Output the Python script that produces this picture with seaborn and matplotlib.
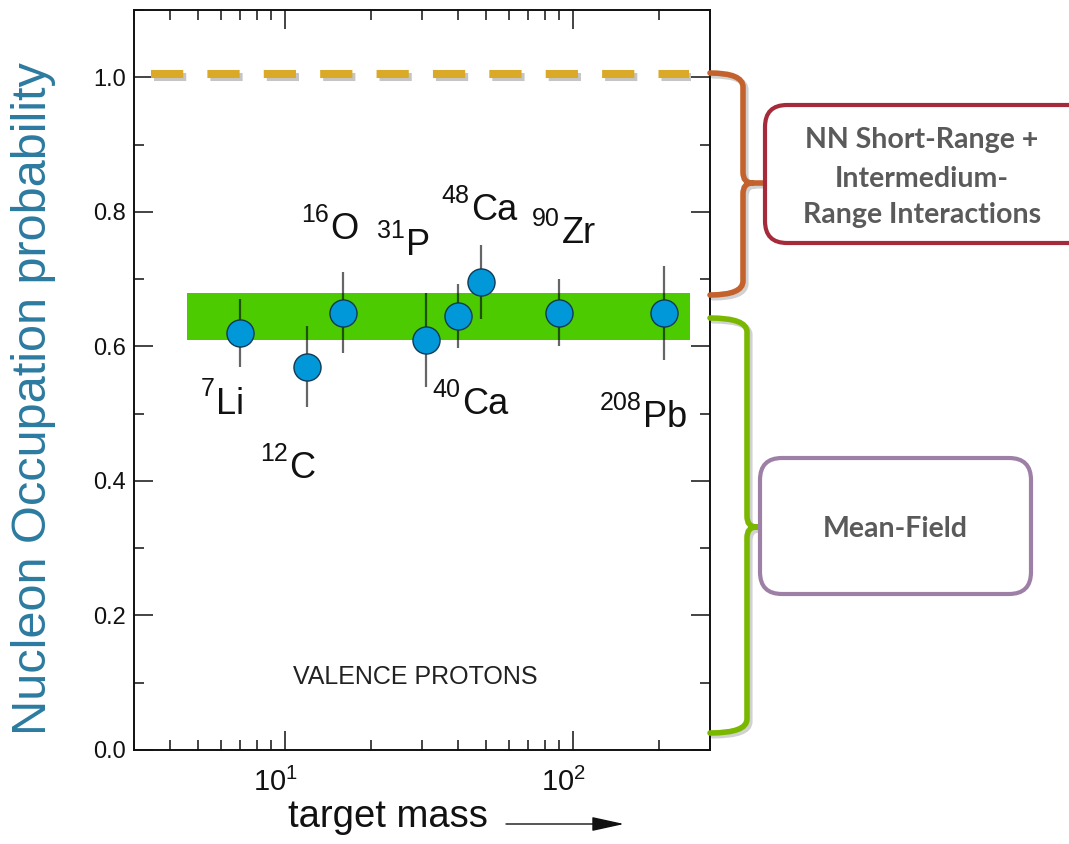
## Nucleon occupation probability vs target mass (valence protons)

import numpy as np
import pandas as pd
import seaborn as sns
import matplotlib.pyplot as plt
from matplotlib.path import Path
from matplotlib import patches, transforms
import matplotlib.patheffects as pe
from matplotlib.ticker import MultipleLocator, NullFormatter

# data
mass_numbers = [7, 12, 16, 31, 40, 48, 90, 208]
elements = ['Li', 'C', 'O', 'P', 'Ca', 'Ca', 'Zr', 'Pb']
occupation = [0.62, 0.57, 0.65, 0.61, 0.645, 0.695, 0.65, 0.65]
occupation_err = [0.05, 0.06, 0.06, 0.07, 0.048, 0.055, 0.05, 0.07]

# where each element symbol sits (mass, baseline)
label_mass = [5.78, 10.35, 14.4, 26.4, 41.3, 44.3, 91.6, 175]
label_occ = [0.500, 0.404, 0.759, 0.736, 0.499, 0.788, 0.753, 0.480]

band_occ = [0.61, 0.68]          # mean-field band
band_mass = [4.6, 255]
unity_occ = 1.0                  # full occupation
unity_mass = [3.45, 253]

df = pd.DataFrame({'mass': mass_numbers, 'occ': occupation, 'err': occupation_err})

sns.set_theme(style='ticks')
plt.rcParams['font.family'] = ['Liberation Sans', 'DejaVu Sans']
plt.rcParams['mathtext.fontset'] = 'custom'
plt.rcParams['mathtext.rm'] = 'Liberation Sans'
plt.rcParams['mathtext.it'] = 'Liberation Sans:italic'

W, H = 1069, 844
fig = plt.figure(figsize=(W / 100, H / 100), dpi=100)
ax = fig.add_axes([134 / W, 1 - 750 / H, 576 / W, 740 / H])

# band + dashed unity line
ax.fill_between(band_mass, band_occ[0], band_occ[1], color='#4CCB00', lw=0, zorder=1)
shift = transforms.offset_copy(ax.transData, fig=fig, x=0, y=3, units='dots')
ax.plot(unity_mass, [unity_occ, unity_occ], transform=shift, color='#DAA927', lw=5.8,
        dashes=(4, 3), solid_capstyle='butt', dash_capstyle='butt', zorder=2,
        path_effects=[pe.SimpleLineShadow(offset=(1.5, -2), alpha=0.25), pe.Normal()])

# error bars and points
ax.errorbar(df['mass'], df['occ'], yerr=df['err'], fmt='none', ecolor='black',
            alpha=0.6, elinewidth=1.6, capsize=0, zorder=3)
sns.scatterplot(data=df, x='mass', y='occ', ax=ax, s=380, color='#0098D8',
                edgecolor='#103a55', linewidth=1.0, zorder=4, legend=False)

ax.set_xscale('log')
ax.set_xlim(3, 300)
ax.set_ylim(0, 1.1)
ax.yaxis.set_major_locator(MultipleLocator(0.2))
ax.yaxis.set_minor_locator(MultipleLocator(0.1))
ax.xaxis.set_minor_formatter(NullFormatter())
ax.tick_params(which='both', direction='in', top=True, right=True, colors='#111111',
               width=1.1)
ax.tick_params(which='major', length=13.5)
ax.tick_params(which='minor', length=7.5)
ax.tick_params(axis='y', labelsize=17, pad=6)
ax.tick_params(axis='x', labelsize=21, pad=13)
for s in ax.spines.values():
    s.set_linewidth(1.4)
    s.set_color('#111111')
ax.set_xlabel('')
ax.set_ylabel('Nucleon Occupation probability', fontsize=35, color='#2C7BA0')
ax.yaxis.set_label_coords(-0.135, 0.475)

# shift the 10^n labels a little left, as in the original
nudge = transforms.ScaledTranslation(-9 / 100, 0, fig.dpi_scale_trans)
for t in ax.xaxis.get_major_ticks():
    t.label1.set_transform(t.label1.get_transform() + nudge)

# nucleus labels: element symbol with mass number as superscript
for a, el, lx, ly in zip(mass_numbers, elements, label_mass, label_occ):
    ax.annotate(el, (lx, ly), ha='left', va='baseline', fontsize=26, color='#111111')
    ax.annotate(str(a), (lx, ly), xytext=(-1, 12.5), textcoords='offset points',
                ha='right', va='baseline', fontsize=18, color='#111111')

ax.text(28.5, 0.098, 'VALENCE PROTONS', ha='center', va='baseline', fontsize=18,
        color='#222222')

# overlay in pixel units for the brackets, boxes and x label
ov = fig.add_axes([0, 0, 1, 1], zorder=5)
ov.set_xlim(0, W)
ov.set_ylim(H, 0)
ov.axis('off')

ov.text(288, 827, 'target mass', ha='left', va='baseline', fontsize=27.5, color='#111111')
ov.annotate('', xy=(624, 824), xytext=(506, 824),
            arrowprops=dict(arrowstyle='-|>,head_length=1.0,head_width=0.22',
                            mutation_scale=20, color='#111111', lw=1.0, shrinkA=0, shrinkB=0))


def brace(x0, x1, y_top, y_mid, y_bot, tip, r=14):
    verts = [(x0, y_top), (x1, y_top), (x1, y_top + r),
             (x1, y_mid - 11), (x1, y_mid), (x1 + 9, y_mid),
             (tip, y_mid),
             (x1 + 9, y_mid), (x1, y_mid), (x1, y_mid + 11),
             (x1, y_bot - r), (x1, y_bot), (x0, y_bot)]
    codes = [Path.MOVETO, Path.CURVE3, Path.CURVE3,
             Path.LINETO, Path.CURVE3, Path.CURVE3,
             Path.LINETO,
             Path.MOVETO, Path.CURVE3, Path.CURVE3,
             Path.LINETO, Path.CURVE3, Path.CURVE3]
    return Path(verts, codes)


shadow = [pe.SimpleLineShadow(offset=(2, -2), alpha=0.2), pe.Normal()]
ov.add_patch(patches.PathPatch(brace(710, 743, 73, 183, 295, 780), fill=False,
                               ec='#C4622D', lw=4, capstyle='round', path_effects=shadow))
ov.add_patch(patches.PathPatch(brace(710, 747, 318, 527, 733, 759), fill=False,
                               ec='#7AB800', lw=4, capstyle='round', path_effects=shadow))

ov.add_patch(patches.FancyBboxPatch((765, 105), 330, 138,
                                    boxstyle='round,pad=0,rounding_size=22',
                                    fc='white', ec='#A52A3A', lw=3, clip_on=False))
ov.add_patch(patches.FancyBboxPatch((760, 458), 271, 136,
                                    boxstyle='round,pad=0,rounding_size=22',
                                    fc='white', ec='#9E80A6', lw=3, clip_on=False))

box_font = dict(family=['Lato', 'DejaVu Sans'], fontweight='bold', fontsize=20.5,
                color='#5a5a5a', ha='center', va='baseline')
ov.text(922, 148, 'NN Short-Range +', **box_font)
ov.text(922, 187, 'Intermedium-', **box_font)
ov.text(922, 223, 'Range Interactions', **box_font)
ov.text(895, 537, 'Mean-Field', **box_font)

fig.savefig('out.png', dpi=100)
